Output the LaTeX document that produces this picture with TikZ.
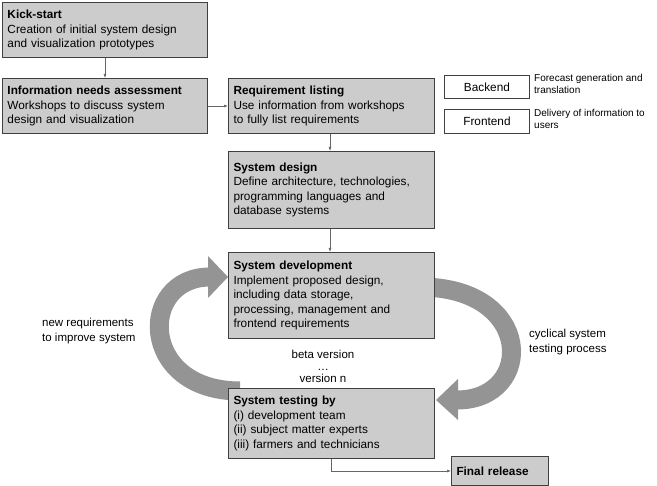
\documentclass[tikz,border=0pt]{standalone}
\usepackage{fontspec}
\setmainfont{Liberation Sans}
\usetikzlibrary{arrows.meta}
\begin{document}
\begin{tikzpicture}[x=1pt,y=-1pt,
  box/.style={draw=black!75,line width=1pt,fill=black!20,anchor=north west,align=left,inner xsep=5pt,inner ysep=3pt,font=\fontsize{11.8}{14.5}\selectfont},
  wbox/.style={draw=black!75,line width=0.9pt,fill=white,anchor=north west,font=\fontsize{11.8}{13}\selectfont,inner sep=0pt,text depth=0pt},
  note/.style={anchor=north west,align=left,font=\fontsize{10}{12.5}\selectfont,inner sep=0pt},
  lbl/.style={align=left,font=\fontsize{11.5}{15}\selectfont,inner sep=0pt},
  conn/.style={draw=black!60,line width=0.6pt,-{Latex[length=4pt,width=3pt]}},
  big/.style={draw=black!42,line width=19pt},
  bighead/.style={fill=black!42}]
\useasboundingbox (0,0) rectangle (657,486);
% big cyclic arrows (behind boxes)
\path[big] (240,391) .. controls (138,391) and (138,277) .. (210,277);
\fill[bighead] (208,256) -- (228,277) -- (208,298) -- cycle;
\path[big] (420,287) .. controls (535,287) and (535,400) .. (457,400);
\fill[bighead] (458,379) -- (436,400) -- (458,420) -- cycle;

\node[box,minimum width=205pt,minimum height=55pt,text width=195pt] (ks) at (2,2) {\textbf{Kick-start}\\Creation of initial system design\\and visualization prototypes};
\node[box,minimum width=205pt,minimum height=55pt,text width=195pt] (ina) at (2,78) {\textbf{Information needs assessment}\\Workshops to discuss system\\design and visualization};
\node[box,minimum width=206pt,minimum height=55pt,text width=196pt] (req) at (228,78) {\textbf{Requirement listing}\\Use information from workshops\\to fully list requirements};
\node[wbox,minimum width=85pt,minimum height=23pt] (be) at (444,75) {Backend};
\node[wbox,minimum width=85pt,minimum height=24pt] (fe) at (444,109) {Frontend};
\node[note] (ben) at (534,74) {Forecast generation and\\translation};
\node[note] (fen) at (534,109) {Delivery of information to\\users};
\node[box,minimum width=206pt,minimum height=77pt,text width=196pt] (sd) at (228,151) {\textbf{System design}\\Define architecture, technologies,\\programming languages and\\database systems};
\node[box,minimum width=206pt,minimum height=86pt,text width=196pt] (dev) at (228,252) {\textbf{System development}\\Implement proposed design,\\including data storage,\\processing, management and\\frontend requirements};
\node[box,minimum width=206pt,minimum height=70pt,text width=196pt] (test) at (228,388) {\textbf{System testing by}\\(i) development team\\(ii) subject matter experts\\(iii) farmers and technicians};
\node[box,minimum width=97pt,minimum height=29pt,text width=87pt] (fin) at (451,456) {\textbf{Final release}};
\node[lbl,align=center] (ver) at (323,366) {beta version\\[-3pt]\dots\\[-3pt]version n};
\node[lbl,anchor=west] (nr) at (42,331) {new requirements\\to improve system};
\node[lbl,anchor=west] (cy) at (529,342) {cyclical system\\testing process};

\draw[conn] (ks.south -| 105,0) -- (ina.north -| 105,0);
\draw[conn] (ina.east) -- (req.west);
\draw[conn] (req.south -| 330,0) -- (sd.north -| 330,0);
\draw[conn] (sd.south -| 330,0) -- (dev.north -| 330,0);
\draw[conn] (test.south -| 331,0) |- (fin.west);
\end{tikzpicture}
\end{document}
